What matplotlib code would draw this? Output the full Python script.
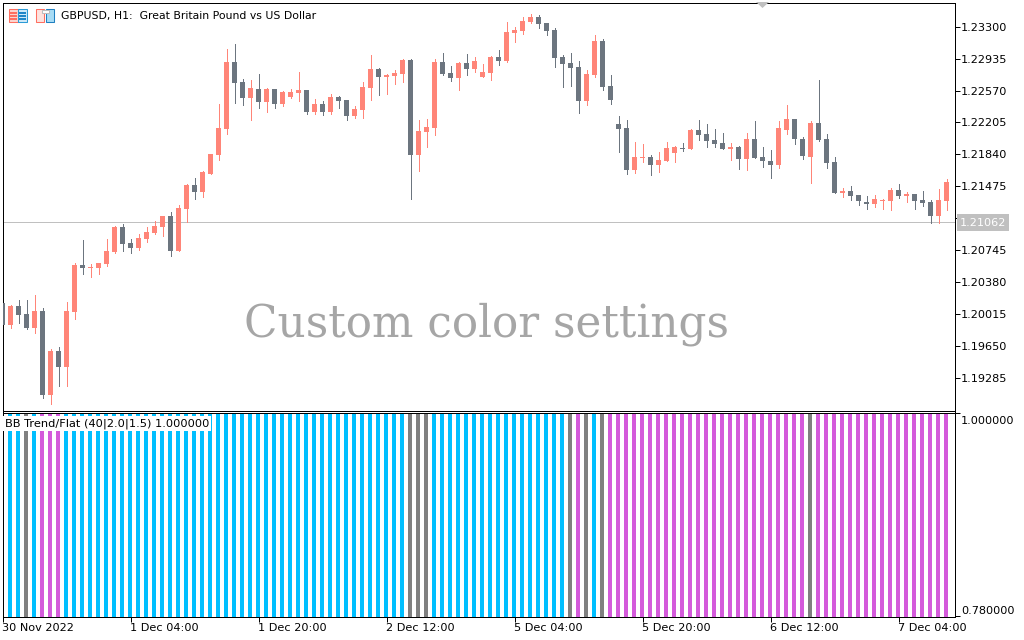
import matplotlib
matplotlib.use("Agg")
import matplotlib.pyplot as plt
from matplotlib.patches import Rectangle, Polygon
from matplotlib.transforms import ScaledTranslation

opens = [1.20143, 1.19891, 1.20108, 1.20017, 1.19856, 1.20052, 1.19090, 1.19594, 1.19411, 1.20040,
         1.20578, 1.20543, 1.20543, 1.20589, 1.20726, 1.21012, 1.20829, 1.20772, 1.20875, 1.20944,
         1.21012, 1.21138, 1.20738, 1.21218, 1.21493, 1.21412, 1.21618, 1.21836, 1.22133, 1.22900,
         1.22671, 1.22487, 1.22591, 1.22442, 1.22591, 1.22419, 1.22499, 1.22545, 1.22579, 1.22328,
         1.22419, 1.22328, 1.22499, 1.22465, 1.22282, 1.22351, 1.22602, 1.22819, 1.22728, 1.22739,
         1.22762, 1.22923, 1.21836, 1.22099, 1.22144, 1.22900, 1.22774, 1.22717, 1.22889, 1.22819,
         1.22728, 1.22774, 1.22957, 1.22912, 1.23232, 1.23254, 1.23357, 1.23415, 1.23346, 1.23266,
         1.22957, 1.22889, 1.22843, 1.22454, 1.22751, 1.23140, 1.22625, 1.22190, 1.22144, 1.21664,
         1.21801, 1.21813, 1.21722, 1.21768, 1.21859, 1.21915, 1.21904, 1.22122, 1.22076, 1.22007,
         1.21973, 1.21904, 1.21927, 1.21790, 1.22019, 1.21813, 1.21768, 1.21722, 1.22122, 1.22248,
         1.22019, 1.21813, 1.22202, 1.22019, 1.21756, 1.21401, 1.21424, 1.21378, 1.21298, 1.21275,
         1.21310, 1.21310, 1.21435, 1.21366, 1.21389, 1.21321, 1.21298, 1.21138, 1.21310]
highs = [1.20143, 1.20120, 1.20177, 1.20177, 1.20234, 1.20086, 1.19617, 1.19639, 1.20154, 1.20601,
         1.20863, 1.20589, 1.20601, 1.20875, 1.21023, 1.21046, 1.20875, 1.20932, 1.21012, 1.21081,
         1.21138, 1.21184, 1.21264, 1.21504, 1.21573, 1.21653, 1.21847, 1.22419, 1.23048, 1.23105,
         1.22705, 1.22694, 1.22762, 1.22602, 1.22591, 1.22568, 1.22591, 1.22785, 1.22579, 1.22476,
         1.22454, 1.22533, 1.22510, 1.22465, 1.22396, 1.22671, 1.22980, 1.22831, 1.22762, 1.22808,
         1.22934, 1.22934, 1.22236, 1.22248, 1.22934, 1.23003, 1.22854, 1.22900, 1.22991, 1.22957,
         1.22877, 1.22968, 1.23037, 1.23357, 1.23300, 1.23415, 1.23449, 1.23438, 1.23346, 1.23288,
         1.22980, 1.23003, 1.22912, 1.22808, 1.23208, 1.23163, 1.22751, 1.22282, 1.22236, 1.21984,
         1.21961, 1.21836, 1.21870, 1.21984, 1.21938, 1.21973, 1.22133, 1.22236, 1.22190, 1.22133,
         1.22088, 1.21973, 1.21938, 1.22088, 1.22225, 1.21927, 1.21893, 1.22225, 1.22408, 1.22248,
         1.22042, 1.22225, 1.22694, 1.22076, 1.21813, 1.21458, 1.21481, 1.21378, 1.21366, 1.21378,
         1.21332, 1.21458, 1.21504, 1.21412, 1.21389, 1.21424, 1.21321, 1.21447, 1.21561]
lows = [1.19891, 1.19856, 1.19914, 1.19845, 1.19800, 1.19056, 1.18987, 1.19193, 1.19193, 1.19960,
        1.20474, 1.20440, 1.20474, 1.20566, 1.20715, 1.20738, 1.20715, 1.20749, 1.20840, 1.20932,
        1.20909, 1.20680, 1.20738, 1.21069, 1.21332, 1.21355, 1.21618, 1.21779, 1.22076, 1.22431,
        1.22408, 1.22236, 1.22373, 1.22328, 1.22373, 1.22396, 1.22487, 1.22454, 1.22305, 1.22305,
        1.22294, 1.22305, 1.22373, 1.22236, 1.22259, 1.22259, 1.22465, 1.22522, 1.22533, 1.22648,
        1.22671, 1.21332, 1.21653, 1.21927, 1.22065, 1.22751, 1.22682, 1.22579, 1.22751, 1.22785,
        1.22728, 1.22694, 1.22866, 1.22900, 1.23128, 1.23220, 1.23346, 1.23288, 1.23208, 1.22843,
        1.22614, 1.22625, 1.22316, 1.22408, 1.22728, 1.22579, 1.22419, 1.21870, 1.21618, 1.21630,
        1.21756, 1.21607, 1.21641, 1.21768, 1.21756, 1.21882, 1.21904, 1.22007, 1.21927, 1.21927,
        1.21904, 1.21779, 1.21676, 1.21664, 1.21801, 1.21699, 1.21573, 1.21687, 1.22076, 1.21961,
        1.21790, 1.21516, 1.21996, 1.21687, 1.21401, 1.21355, 1.21321, 1.21264, 1.21218, 1.21241,
        1.21218, 1.21207, 1.21344, 1.21298, 1.21218, 1.21252, 1.21058, 1.21058, 1.21207]
closes = [1.19891, 1.20108, 1.20006, 1.19856, 1.20052, 1.19090, 1.19594, 1.19411, 1.20052, 1.20578,
          1.20543, 1.20555, 1.20601, 1.20738, 1.21012, 1.20817, 1.20772, 1.20886, 1.20955, 1.21023,
          1.21138, 1.20738, 1.21229, 1.21493, 1.21412, 1.21641, 1.21847, 1.22144, 1.22900, 1.22660,
          1.22487, 1.22602, 1.22442, 1.22591, 1.22419, 1.22556, 1.22556, 1.22579, 1.22328, 1.22419,
          1.22328, 1.22499, 1.22454, 1.22282, 1.22362, 1.22614, 1.22819, 1.22728, 1.22751, 1.22774,
          1.22923, 1.21836, 1.22111, 1.22156, 1.22900, 1.22762, 1.22717, 1.22889, 1.22819, 1.22912,
          1.22785, 1.22957, 1.22912, 1.23243, 1.23266, 1.23369, 1.23415, 1.23334, 1.23254, 1.22946,
          1.22877, 1.22831, 1.22454, 1.22762, 1.23140, 1.22614, 1.22465, 1.22133, 1.21664, 1.21813,
          1.21813, 1.21722, 1.21779, 1.21915, 1.21927, 1.21904, 1.22122, 1.22065, 1.21996, 1.21961,
          1.21904, 1.21927, 1.21790, 1.22019, 1.21801, 1.21768, 1.21722, 1.22144, 1.22248, 1.22019,
          1.21824, 1.22202, 1.22007, 1.21745, 1.21401, 1.21424, 1.21366, 1.21310, 1.21275, 1.21332,
          1.21321, 1.21435, 1.21366, 1.21389, 1.21310, 1.21287, 1.21138, 1.21321, 1.21527]

# indicator state per bar as runs: t = trend, f = flat, n = neutral
state_runs = [("t", 3), ("n", 1), ("t", 1), ("f", 3), ("t", 43), ("n", 3), ("t", 17),
              ("n", 1), ("f", 1), ("n", 1), ("t", 1), ("n", 1), ("f", 25), ("n", 1), ("f", 17)]
states = []
for s, n in state_runs:
    states += [s] * n
indicator = [1.0] * len(states)

price_ticks = [1.23300, 1.22935, 1.22570, 1.22205, 1.21840, 1.21475, 1.21110, 1.20745, 1.20380, 1.20015, 1.19650, 1.19285]
last_price = 1.21062
time_ticks = [0, 16, 32, 48, 64, 80, 96, 112]
time_labels = ["30 Nov 2022", "1 Dec 04:00", "1 Dec 20:00", "2 Dec 12:00", "5 Dec 04:00", "5 Dec 20:00", "6 Dec 12:00", "7 Dec 04:00"]

UP = "#ff8578"
DOWN = "#6c757f"
STATE_COLORS = {"t": "#00bfff", "f": "#d45adb", "n": "#808080"}
FONT = "DejaVu Sans"
W, H = 1024, 640


def axes_box(left, top, right, bottom):
    return [left / W, 1 - bottom / H, (right - left) / W, (bottom - top) / H]


def px_rect(x0, y0, x1, y1, face, edge="none"):
    # small header icon piece, given in pixels from the top left
    fig.add_artist(Rectangle((x0 / W, 1 - y1 / H), (x1 - x0) / W, (y1 - y0) / H, transform=fig.transFigure,
                             facecolor=face, edgecolor=edge, lw=0.75))


fig = plt.figure(figsize=(W / 100, H / 100), dpi=100)
ax = fig.add_axes(axes_box(2.5, 2.5, 954.5, 410.5))
ax2 = fig.add_axes(axes_box(2.5, 412.5, 954.5, 616.5))

# candles
for i in range(len(opens)):
    col = UP if closes[i] >= opens[i] else DOWN
    ax.vlines(i, lows[i], highs[i], color=col, lw=0.72, antialiased=False, zorder=2)
    bottom = min(opens[i], closes[i])
    ax.bar(i, abs(closes[i] - opens[i]), bottom=bottom, width=0.625, color=col, linewidth=0,
           antialiased=False, zorder=3)

ax.axhline(last_price, color="#c0c0c0", lw=0.72, zorder=1)
ax.set_xlim(0, 119)
ax.set_ylim(1.18910, 1.23577)
ax.set_xticks([])
ax.yaxis.tick_right()
ax.set_yticks(price_ticks)
ax.set_yticklabels(["%.5f" % p for p in price_ticks], fontsize=8.1, family=FONT)
ax.tick_params(axis="y", length=3.5, width=0.72, pad=1)
fig.text(487 / W, 1 - 324 / H, "Custom color settings", ha="center", va="center",
         fontsize=31.5, color="#a6a6a6", family="DejaVu Serif")
ax.text(960 / W, 1 - 222.5 / H, "%.5f" % last_price, transform=fig.transFigure, ha="left", va="center",
        fontsize=8.1, color="white", family=FONT, zorder=10,
        bbox=dict(facecolor="#c0c0c0", edgecolor="none", pad=2.2))

# header text and the two small chart icons
fig.text(61 / W, 1 - 16.5 / H, "GBPUSD, H1:  Great Britain Pound vs US Dollar", ha="left", va="center",
         fontsize=7.8, family=FONT)
px_rect(8.5, 9.5, 17.5, 21.5, "#fbd5d0", "#ff6f61")
px_rect(17.5, 9.5, 26.5, 21.5, "#cfe9f8", "#2b9bd6")
for yy in (12, 15, 18):
    px_rect(10, yy, 16.5, yy + 1.5, "#ff6f61")
    px_rect(19, yy, 25.5, yy + 1.5, "#1f86c8")
px_rect(35.5, 9.5, 43.5, 21.5, "#fde3df", "#ff6f61")
px_rect(45.5, 9.5, 53.5, 21.5, "#a8dcf5", "#1f7fc0")
px_rect(41.5, 9.5, 48.5, 12.5, "white", "#bdbdbd")
fig.add_artist(Polygon([(756 / W, 1 - 2 / H), (769 / W, 1 - 2 / H), (762.5 / W, 1 - 8 / H)],
                       transform=fig.transFigure, facecolor="#c0c0c0", edgecolor="none"))

# indicator
xs = [i - 0.3125 for i in range(len(states))]
cols = [STATE_COLORS[s] for s in states]
ax2.bar(xs, [v - 0.78 for v in indicator], bottom=0.78, width=0.5, align="edge", color=cols,
        linewidth=0, antialiased=False)
ax2.set_xlim(0, 119)
ax2.set_ylim(0.78, 1.00054)
ax2.yaxis.tick_right()
ax2.set_yticks([1.0, 0.78])
ax2.set_yticklabels(["1.000000", "0.780000"], fontsize=8.1, family=FONT)
ax2.tick_params(axis="y", length=3.5, width=0.72, pad=1)
labels = ax2.get_yticklabels()
labels[0].set_va("top")
labels[1].set_va("bottom")
labels[0].set_transform(labels[0].get_transform() + ScaledTranslation(0, -3 / 100, fig.dpi_scale_trans))
ax2.set_xticks(time_ticks)
ax2.set_xticklabels(time_labels, fontsize=8.1, family=FONT, ha="left")
ax2.tick_params(axis="x", length=3.5, width=0.72, pad=1.5)
ax2.text(5 / W, 1 - 423.5 / H, "BB Trend/Flat (40|2.0|1.5) 1.000000", transform=fig.transFigure,
         ha="left", va="center", fontsize=8.2, family=FONT, zorder=10,
         bbox=dict(facecolor="white", edgecolor="none", pad=1.5))

for a in (ax, ax2):
    for s in a.spines.values():
        s.set_linewidth(0.72)

fig.savefig("out.png", dpi=100)
